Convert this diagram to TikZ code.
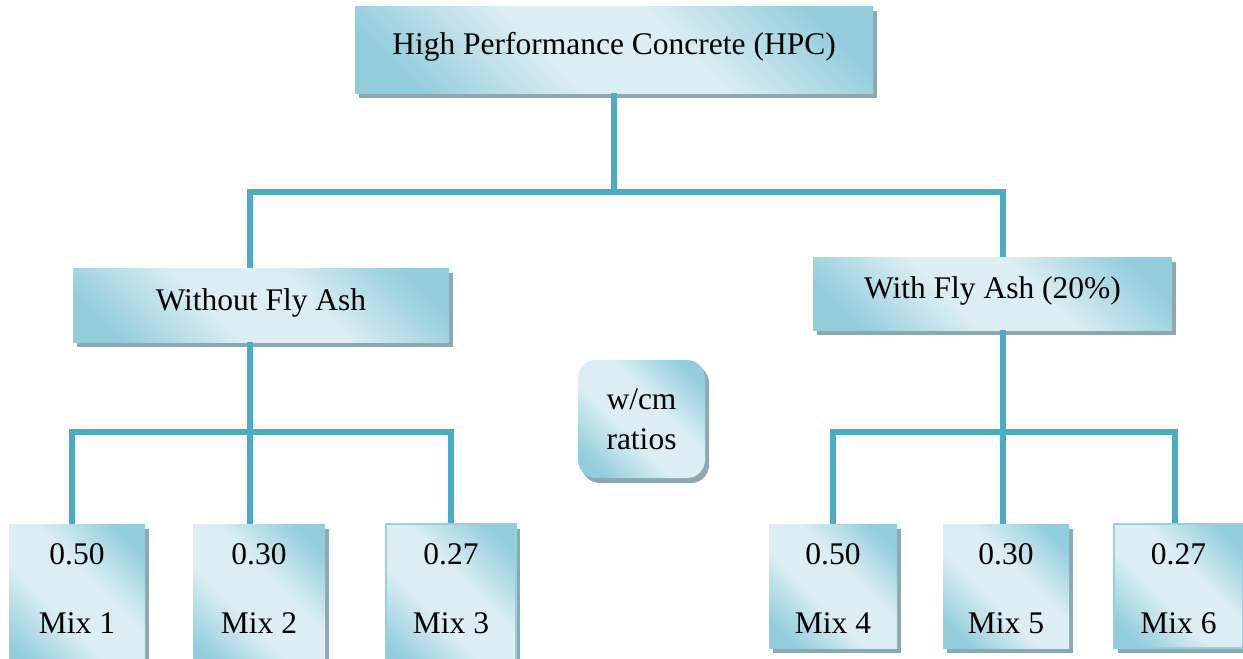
\documentclass[tikz,border=0pt]{standalone}
\usepackage{fontspec}
\setmainfont{Liberation Serif}
\usetikzlibrary{shadows}
\definecolor{dk}{RGB}{146,205,220}
\definecolor{lt}{RGB}{220,238,243}
\definecolor{shd}{RGB}{141,168,176}
\definecolor{ln}{RGB}{75,172,198}
\definecolor{edge}{RGB}{150,208,222}
\pgfdeclareverticalshading{hpcshade}{100bp}{color(0bp)=(dk); color(22bp)=(dk); color(42bp)=(lt); color(58bp)=(lt); color(78bp)=(dk); color(100bp)=(dk)}
\begin{document}
\begin{tikzpicture}[x=1pt,y=-1pt,
  every node/.style={font=\fontsize{31.5}{40}\selectfont},
  box/.style={shading=hpcshade, shading angle=-45, inner sep=0pt,
    drop shadow={shadow xshift=4pt, shadow yshift=-5pt, fill=shd, opacity=1, draw=none}},
  single/.style={text height=22pt, text depth=12pt},
  mixbox/.style={box, minimum width=#1},
  framed/.style={draw=edge, line width=2.5pt},
  mixtxt/.style={align=center, inner sep=0pt, font=\fontsize{31.5}{38}\selectfont},
  conn/.style={draw=ln, line width=5.5pt, line join=miter}]
\useasboundingbox (0,0) rectangle (1243,659);
\clip (0,0) rectangle (1243,659);
% main boxes
\node[box, single, minimum width=518pt, minimum height=87pt] (top) at (614,49.5) {High Performance Concrete (HPC)};
\node[box, single, minimum width=376pt, minimum height=74pt] (wofa) at (261,305) {Without Fly Ash};
\node[box, single, minimum width=359pt, minimum height=73pt] (wfa) at (992.5,293.5) {With Fly Ash (20\%)};
\node[box, rounded corners=18pt, minimum width=127pt, minimum height=118pt, align=center,
  drop shadow={shadow xshift=3pt, shadow yshift=-4pt, fill=shd, opacity=1, draw=none}] (wcm) at (641.5,419) {w/cm\\ratios};
% mix boxes
\node[mixbox=136pt, minimum height=150pt] (m1) at (77,599) {};
\node[mixbox=132pt, minimum height=150pt] (m2) at (259,599) {};
\node[mixbox=130pt, minimum height=150pt, framed] (m3) at (451,599) {};
\node[mixbox=128pt, minimum height=124pt] (m4) at (833,586) {};
\node[mixbox=126pt, minimum height=124pt] (m5) at (1006,586) {};
\node[mixbox=129pt, minimum height=124pt, framed] (m6) at (1178.5,586) {};
\coordinate (trow) at (0,589);
\node[mixtxt] (t1) at (m1 |- trow) {0.50\\[31pt]Mix 1};
\node[mixtxt] (t2) at (m2 |- trow) {0.30\\[31pt]Mix 2};
\node[mixtxt] (t3) at (m3 |- trow) {0.27\\[31pt]Mix 3};
\node[mixtxt] (t4) at (m4 |- trow) {0.50\\[31pt]Mix 4};
\node[mixtxt] (t5) at (m5 |- trow) {0.30\\[31pt]Mix 5};
\node[mixtxt] (t6) at (m6 |- trow) {0.27\\[31pt]Mix 6};
% junctions
\coordinate (jl) at (250,192);
\coordinate (jr) at (1003,192);
\coordinate (ll) at (72,432);
\coordinate (lm) at (250,432);
\coordinate (lr) at (451,432);
\coordinate (rl) at (833,432);
\coordinate (rm) at (1003,432);
\coordinate (rr) at (1175,432);
% connectors
\draw[conn] (top.south) -- (top.south |- jl);
\draw[conn] (wofa.north -| jl) -- (jl) -- (jr) -- (wfa.north -| jr);
\draw[conn] (wofa.south -| lm) -- (lm) -- (m2.north -| lm);
\draw[conn] (m1.north -| ll) -- (ll) -- (lr) -- (m3.north -| lr);
\draw[conn] (wfa.south -| rm) -- (rm) -- (m5.north -| rm);
\draw[conn] (m4.north -| rl) -- (rl) -- (rr) -- (m6.north -| rr);
\end{tikzpicture}
\end{document}
